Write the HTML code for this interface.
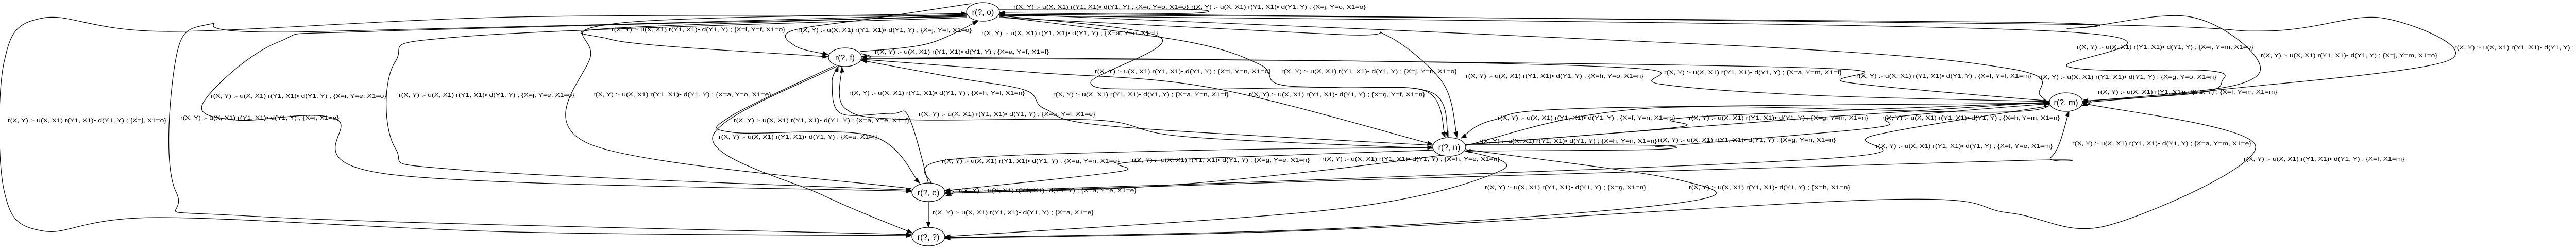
<!DOCTYPE html>
<html><head><meta charset="utf-8"><style>
html,body{margin:0;padding:0;background:#fff;}
svg{display:block;}
text{font-family:"Liberation Sans",sans-serif;fill:#000;}
.l{font-size:11px;}
.n{font-size:16px;}
</style></head><body>
<svg id="g" width="5110" height="483" viewBox="0 0 5110 483" xmlns="http://www.w3.org/2000/svg">
<rect width="5110" height="483" fill="#fff"/>
<g id="edges" fill="none" stroke="#000" stroke-width="1.2"></g>
<g id="arrows" fill="#000" stroke="#000"></g>
<g fill="#fff" stroke="#000" stroke-width="1.2">
<ellipse cx="1908" cy="23" rx="32" ry="18"/>
<ellipse cx="1640" cy="111" rx="32" ry="18"/>
<ellipse cx="1802" cy="373" rx="32" ry="18"/>
<ellipse cx="1802" cy="459" rx="32" ry="18"/>
<ellipse cx="2813" cy="285" rx="32" ry="18"/>
<ellipse cx="4010" cy="198" rx="32" ry="18"/>
</g>
<g class="n" text-anchor="middle">
<text x="1908" y="29">r(?, o)</text>
<text x="1640" y="117">r(?, f)</text>
<text x="1802" y="379">r(?, e)</text>
<text x="1802" y="465">r(?, ?)</text>
<text x="2813" y="291">r(?, n)</text>
<text x="4010" y="204">r(?, m)</text>
</g>
<g class="l">
<text x="15" y="237" textLength="308" lengthAdjust="spacingAndGlyphs">r(X, Y) :- u(X, X1) r(Y1, X1)• d(Y1, Y) ; {X=j, X1=o}</text>
<text x="350" y="232" textLength="308" lengthAdjust="spacingAndGlyphs">r(X, Y) :- u(X, X1) r(Y1, X1)• d(Y1, Y) ; {X=i, X1=o}</text>
<text x="409" y="190" textLength="341" lengthAdjust="spacingAndGlyphs">r(X, Y) :- u(X, X1) r(Y1, X1)• d(Y1, Y) ; {X=i, Y=e, X1=o}</text>
<text x="774" y="188" textLength="341" lengthAdjust="spacingAndGlyphs">r(X, Y) :- u(X, X1) r(Y1, X1)• d(Y1, Y) ; {X=j, Y=e, X1=o}</text>
<text x="1151" y="187" textLength="346" lengthAdjust="spacingAndGlyphs">r(X, Y) :- u(X, X1) r(Y1, X1)• d(Y1, Y) ; {X=a, Y=o, X1=e}</text>
<text x="1187" y="61" textLength="337" lengthAdjust="spacingAndGlyphs">r(X, Y) :- u(X, X1) r(Y1, X1)• d(Y1, Y) ; {X=i, Y=f, X1=o}</text>
<text x="1967" y="17" textLength="340" lengthAdjust="spacingAndGlyphs">r(X, Y) :- u(X, X1) r(Y1, X1)• d(Y1, Y) ; {X=i, Y=o, X1=o}</text>
<text x="2312" y="17" textLength="339" lengthAdjust="spacingAndGlyphs">r(X, Y) :- u(X, X1) r(Y1, X1)• d(Y1, Y) ; {X=j, Y=o, X1=o}</text>
<text x="1549" y="62" textLength="337" lengthAdjust="spacingAndGlyphs">r(X, Y) :- u(X, X1) r(Y1, X1)• d(Y1, Y) ; {X=j, Y=f, X1=o}</text>
<text x="1905" y="68" textLength="343" lengthAdjust="spacingAndGlyphs">r(X, Y) :- u(X, X1) r(Y1, X1)• d(Y1, Y) ; {X=a, Y=o, X1=f}</text>
<text x="1698" y="104" textLength="338" lengthAdjust="spacingAndGlyphs">r(X, Y) :- u(X, X1) r(Y1, X1)• d(Y1, Y) ; {X=a, Y=f, X1=f}</text>
<text x="2125" y="142" textLength="342" lengthAdjust="spacingAndGlyphs">r(X, Y) :- u(X, X1) r(Y1, X1)• d(Y1, Y) ; {X=i, Y=n, X1=o}</text>
<text x="2487" y="142" textLength="341" lengthAdjust="spacingAndGlyphs">r(X, Y) :- u(X, X1) r(Y1, X1)• d(Y1, Y) ; {X=j, Y=n, X1=o}</text>
<text x="1648" y="184" textLength="341" lengthAdjust="spacingAndGlyphs">r(X, Y) :- u(X, X1) r(Y1, X1)• d(Y1, Y) ; {X=h, Y=f, X1=n}</text>
<text x="2044" y="187" textLength="341" lengthAdjust="spacingAndGlyphs">r(X, Y) :- u(X, X1) r(Y1, X1)• d(Y1, Y) ; {X=a, Y=n, X1=f}</text>
<text x="2424" y="187" textLength="342" lengthAdjust="spacingAndGlyphs">r(X, Y) :- u(X, X1) r(Y1, X1)• d(Y1, Y) ; {X=g, Y=f, X1=n}</text>
<text x="1783" y="225" textLength="343" lengthAdjust="spacingAndGlyphs">r(X, Y) :- u(X, X1) r(Y1, X1)• d(Y1, Y) ; {X=a, Y=f, X1=e}</text>
<text x="1424" y="237" textLength="341" lengthAdjust="spacingAndGlyphs">r(X, Y) :- u(X, X1) r(Y1, X1)• d(Y1, Y) ; {X=a, Y=e, X1=f}</text>
<text x="1395" y="269" textLength="308" lengthAdjust="spacingAndGlyphs">r(X, Y) :- u(X, X1) r(Y1, X1)• d(Y1, Y) ; {X=a, X1=f}</text>
<text x="1828" y="316" textLength="345" lengthAdjust="spacingAndGlyphs">r(X, Y) :- u(X, X1) r(Y1, X1)• d(Y1, Y) ; {X=a, Y=n, X1=e}</text>
<text x="2197" y="314" textLength="345" lengthAdjust="spacingAndGlyphs">r(X, Y) :- u(X, X1) r(Y1, X1)• d(Y1, Y) ; {X=g, Y=e, X1=n}</text>
<text x="2566" y="312" textLength="345" lengthAdjust="spacingAndGlyphs">r(X, Y) :- u(X, X1) r(Y1, X1)• d(Y1, Y) ; {X=h, Y=e, X1=n}</text>
<text x="1861" y="373" textLength="345" lengthAdjust="spacingAndGlyphs">r(X, Y) :- u(X, X1) r(Y1, X1)• d(Y1, Y) ; {X=a, Y=e, X1=e}</text>
<text x="1810" y="416" textLength="313" lengthAdjust="spacingAndGlyphs">r(X, Y) :- u(X, X1) r(Y1, X1)• d(Y1, Y) ; {X=a, X1=e}</text>
<text x="2845" y="151" textLength="345" lengthAdjust="spacingAndGlyphs">r(X, Y) :- u(X, X1) r(Y1, X1)• d(Y1, Y) ; {X=h, Y=o, X1=n}</text>
<text x="3230" y="144" textLength="345" lengthAdjust="spacingAndGlyphs">r(X, Y) :- u(X, X1) r(Y1, X1)• d(Y1, Y) ; {X=a, Y=m, X1=f}</text>
<text x="3603" y="151" textLength="340" lengthAdjust="spacingAndGlyphs">r(X, Y) :- u(X, X1) r(Y1, X1)• d(Y1, Y) ; {X=f, Y=f, X1=m}</text>
<text x="2907" y="232" textLength="345" lengthAdjust="spacingAndGlyphs">r(X, Y) :- u(X, X1) r(Y1, X1)• d(Y1, Y) ; {X=f, Y=n, X1=m}</text>
<text x="3278" y="232" textLength="348" lengthAdjust="spacingAndGlyphs">r(X, Y) :- u(X, X1) r(Y1, X1)• d(Y1, Y) ; {X=g, Y=m, X1=n}</text>
<text x="3653" y="232" textLength="345" lengthAdjust="spacingAndGlyphs">r(X, Y) :- u(X, X1) r(Y1, X1)• d(Y1, Y) ; {X=h, Y=m, X1=n}</text>
<text x="2871" y="277" textLength="345" lengthAdjust="spacingAndGlyphs">r(X, Y) :- u(X, X1) r(Y1, X1)• d(Y1, Y) ; {X=h, Y=n, X1=n}</text>
<text x="3218" y="275" textLength="345" lengthAdjust="spacingAndGlyphs">r(X, Y) :- u(X, X1) r(Y1, X1)• d(Y1, Y) ; {X=g, Y=n, X1=n}</text>
<text x="3641" y="287" textLength="343" lengthAdjust="spacingAndGlyphs">r(X, Y) :- u(X, X1) r(Y1, X1)• d(Y1, Y) ; {X=f, Y=e, X1=m}</text>
<text x="2882" y="367" textLength="313" lengthAdjust="spacingAndGlyphs">r(X, Y) :- u(X, X1) r(Y1, X1)• d(Y1, Y) ; {X=g, X1=n}</text>
<text x="3278" y="367" textLength="313" lengthAdjust="spacingAndGlyphs">r(X, Y) :- u(X, X1) r(Y1, X1)• d(Y1, Y) ; {X=h, X1=n}</text>
<text x="4031" y="95" textLength="343" lengthAdjust="spacingAndGlyphs">r(X, Y) :- u(X, X1) r(Y1, X1)• d(Y1, Y) ; {X=i, Y=m, X1=o}</text>
<text x="4388" y="111" textLength="343" lengthAdjust="spacingAndGlyphs">r(X, Y) :- u(X, X1) r(Y1, X1)• d(Y1, Y) ; {X=j, Y=m, X1=o}</text>
<text x="4764" y="96" textLength="343" lengthAdjust="spacingAndGlyphs">r(X, Y) :- u(X, X1) r(Y1, X1)• d(Y1, Y) ; {X=f, Y=o, X1=m}</text>
<text x="3956" y="153" textLength="346" lengthAdjust="spacingAndGlyphs">r(X, Y) :- u(X, X1) r(Y1, X1)• d(Y1, Y) ; {X=g, Y=o, X1=n}</text>
<text x="4072" y="182" textLength="348" lengthAdjust="spacingAndGlyphs">r(X, Y) :- u(X, X1) r(Y1, X1)• d(Y1, Y) ; {X=f, Y=m, X1=m}</text>
<text x="4022" y="282" textLength="348" lengthAdjust="spacingAndGlyphs">r(X, Y) :- u(X, X1) r(Y1, X1)• d(Y1, Y) ; {X=a, Y=m, X1=e}</text>
<text x="4355" y="312" textLength="312" lengthAdjust="spacingAndGlyphs">r(X, Y) :- u(X, X1) r(Y1, X1)• d(Y1, Y) ; {X=f, X1=m}</text>
</g>
</svg>
<script>
var E=[
[[1876,30],[1000,33],[330,61],[83,35],[8,120],[8,370],[83,448],[310,422],[1000,450],[1769,457]],
[[1876,28],[580,62],[406,47],[342,110],[342,373],[500,420],[1769,455]],
[[1876,32],[746,60],[539,82],[394,200],[460,233],[650,230],[755,338],[1769,371]],
[[1876,34],[912,70],[767,120],[767,287],[900,330],[1769,369]],
[[1769,366],[1146,280],[1146,110],[1200,45],[1876,26]],
[[1876,30],[1185,55],[1180,75],[1300,90],[1607,110]],
[[1940,18],[2300,18],[2303,26],[1940,28]],
[[1885,7],[1700,35],[1536,60],[1545,90],[1607,106]],
[[1670,100],[1800,85],[1898,41]],
[[1672,104],[1690,110],[1672,118]],
[[1940,30],[2253,73],[2117,160],[2253,173],[2600,170],[2780,180],[2811,266]],
[[1940,32],[2300,80],[2445,125],[2480,163],[2600,170],[2770,178],[2805,266]],
[[1940,34],[2600,67],[2690,68],[2800,160],[2828,266]],
[[2782,282],[2160,245],[2030,212],[1990,175],[1850,150],[1672,117]],
[[1672,113],[2600,118],[3180,133],[3222,163],[3520,185],[3977,197]],
[[1672,115],[2000,140],[2350,170],[2781,280]],
[[1802,355],[1764,227],[1731,220],[1632,220],[1615,160],[1627,129]],
[[1619,128],[1416,227],[1424,257],[1690,263],[1785,355]],
[[1625,128],[1383,267],[1600,380],[1771,452]],
[[2782,288],[2300,265],[2130,233],[1760,232],[1640,210],[1634,130]],
[[1806,355],[1840,310],[2300,292],[2781,286]],
[[2782,291],[2212,313],[2171,333],[1834,370]],
[[3980,205],[3636,263],[3578,305],[2600,347],[1834,373]],
[[2800,301],[2544,333],[2212,363],[1834,375]],
[[1836,366],[1852,373],[1836,380]],
[[1802,391],[1802,441]],
[[2845,292],[2915,330],[2600,405],[1834,459]],
[[2845,290],[3263,350],[3263,393],[2600,443],[1834,461]],
[[4042,200],[4378,283],[4093,437],[3900,413],[3661,387],[2600,445],[1834,462]],
[[4041,192],[4059,198],[4041,205]],
[[2844,280],[3209,282],[3209,290],[2844,293]],
[[2845,281],[3500,230],[3977,198]],
[[3977,200],[3081,210],[2898,233],[2836,268]],
[[2849,280],[3255,247],[3288,227],[3977,199]],
[[3213,285],[3636,248],[3678,227],[3978,201]],
[[1940,30],[3977,60],[4016,130],[4286,137],[4313,157],[4270,180],[4042,196]],
[[1940,28],[3900,43],[4020,55],[4247,32],[4378,110],[4340,165],[4042,197]],
[[4042,199],[4300,175],[4753,117],[4625,35],[4400,60],[4000,47],[1940,25]],
[[2845,282],[3200,210],[3900,217],[3958,180],[3900,133],[3400,90],[1940,27]],
[[1834,375],[2600,350],[3900,312],[3981,305],[4016,216]],
[[3977,196],[3587,160],[3553,133],[2600,118],[1672,110]]
];
var ge=document.getElementById('edges'),ga=document.getElementById('arrows'),NS='http://www.w3.org/2000/svg';
E.forEach(function(p){
 var d='M'+p[0][0]+','+p[0][1],lc=p[0];
 for(var i=0;i<p.length-1;i++){
  var p0=p[i-1]||p[i],p1=p[i],p2=p[i+1],p3=p[i+2]||p[i+1];
  var c1=[p1[0]+(p2[0]-p0[0])/6,p1[1]+(p2[1]-p0[1])/6],c2=[p2[0]-(p3[0]-p1[0])/6,p2[1]-(p3[1]-p1[1])/6];
  d+=' C'+c1[0].toFixed(1)+','+c1[1].toFixed(1)+' '+c2[0].toFixed(1)+','+c2[1].toFixed(1)+' '+p2[0]+','+p2[1];lc=c2;
 }
 var pa=document.createElementNS(NS,'path');pa.setAttribute('d',d);ge.appendChild(pa);
 var e=p[p.length-1],dx=e[0]-lc[0],dy=e[1]-lc[1],L=Math.hypot(dx,dy)||1;dx/=L;dy/=L;
 var b=[e[0]-dx*10,e[1]-dy*10],w=3.5;
 var t=document.createElementNS(NS,'polygon');
 t.setAttribute('points',e[0]+','+e[1]+' '+(b[0]-dy*w)+','+(b[1]+dx*w)+' '+(b[0]+dy*w)+','+(b[1]-dx*w));
 ga.appendChild(t);
});
</script>
</body></html>
